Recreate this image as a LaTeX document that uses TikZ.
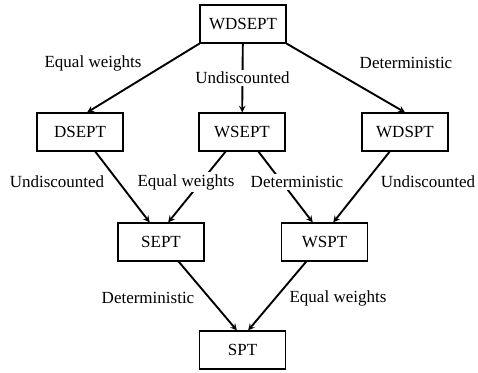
\documentclass[tikz,border=0pt]{standalone}
\usepackage{fontspec}
\setmainfont{Liberation Serif}
\usepackage{tikz}
\usetikzlibrary{arrows,positioning}
\tikzset{
    prob/.style={draw, rectangle, line width=1.2pt, minimum width=86pt, minimum height=38pt, text centered, font=\fontsize{17}{20}\selectfont},
    arrow/.style={->, >=stealth, line width=1.9pt},
    lbl/.style={fill=white, inner sep=2pt, font=\fontsize{17}{20}\selectfont}
}
\begin{document}
\begin{tikzpicture}[x=1pt, y=-1pt]
    \useasboundingbox (0,0) rectangle (478,372);

    % problem classes
    \node[prob] (wdsept) at (243,24) {WDSEPT};
    \node[prob] (dsept) at (80,132) {DSEPT};
    \node[prob] (wsept) at (242,132) {WSEPT};
    \node[prob] (wdspt) at (405,132) {WDSPT};
    \node[prob] (sept) at (161,242) {SEPT};
    \node[prob] (wspt) at (324.5,242) {WSPT};
    \node[prob] (spt) at (242.5,350) {SPT};

    % reductions
    \draw[arrow] (wdsept.south west) -- (dsept.70);
    \draw[arrow] (wdsept) -- node[lbl] (u0) {Undiscounted} (wsept);
    \draw[arrow] (wdsept.south east) -- (wdspt.north);
    \draw[arrow] (dsept.-52) -- (sept.120);
    \draw[arrow] (wsept.-130) -- (sept.70);
    \draw[arrow] (wsept.-50) -- (wspt.121);
    \draw[arrow] (wdspt.-128) -- (wspt.66);
    \draw[arrow] (sept.-48) -- (spt.106);
    \draw[arrow] (wspt.-133) -- (spt.74);

    % edge labels
    \node[lbl] (e0) at (93,63) {Equal weights};
    \node[lbl] (d0) at (406,63) {Deterministic};
    \node[lbl] (u1) at (57,182) {Undiscounted};
    \node[lbl] (e1) at (186,182) {Equal weights};
    \node[lbl] (d1) at (297,182) {Deterministic};
    \node[lbl] (u2) at (428,182) {Undiscounted};
    \node[lbl] (d2) at (148,298) {Deterministic};
    \node[lbl] (e2) at (338,298) {Equal weights};
\end{tikzpicture}
\end{document}
